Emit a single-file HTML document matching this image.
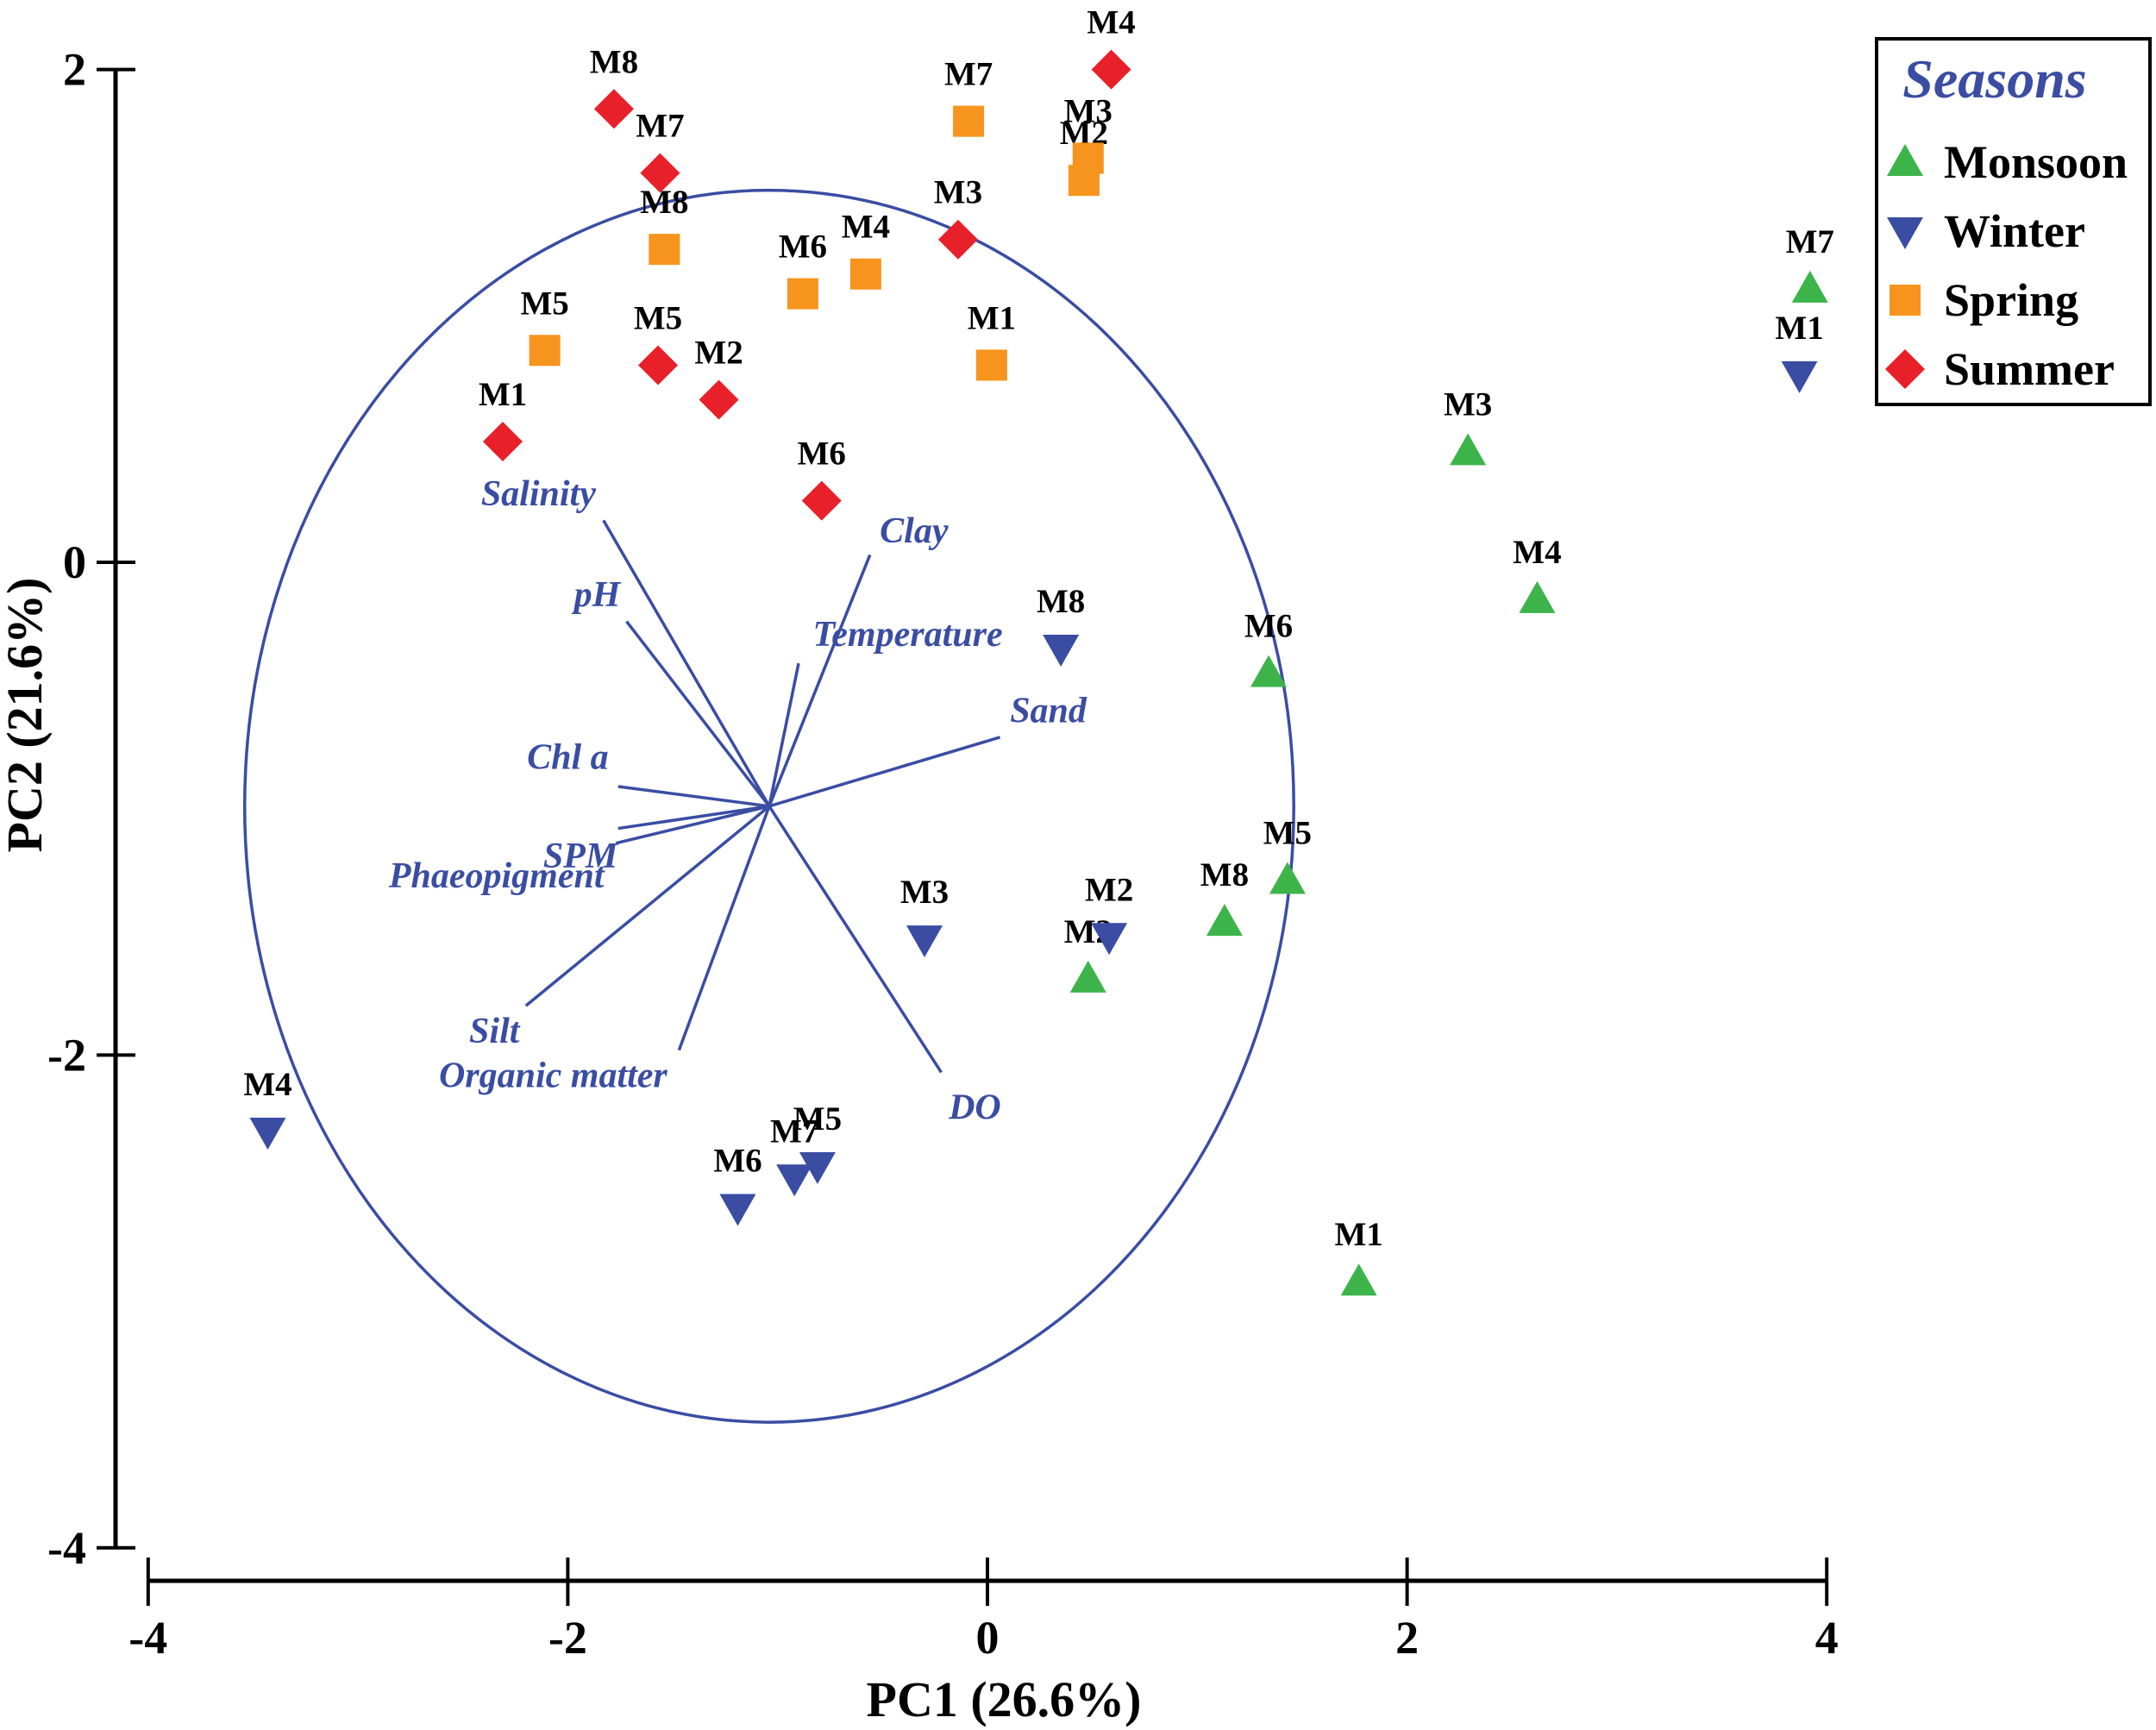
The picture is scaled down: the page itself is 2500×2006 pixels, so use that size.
<!DOCTYPE html>
<html><head><meta charset="utf-8"><style>
html,body{margin:0;padding:0;background:#fff;}
svg{display:block;}
text{font-family:"Liberation Serif",serif;font-weight:bold;}
</style></head><body>
<svg id="chart" xmlns="http://www.w3.org/2000/svg" width="2500" height="2006" viewBox="0 0 2500 2006">
<g id="axes"></g>
<g id="biplot"></g>
<g id="points"></g>
<g id="legend">
<rect x="2176" y="45" width="317" height="424" fill="#fff" stroke="#000" stroke-width="4"/>
<text x="2313" y="113" text-anchor="middle" font-size="64" font-style="italic" fill="#3a4da3">Seasons</text>
</g>
</svg>
<script>
const NS="http://www.w3.org/2000/svg";
// ---- data ----
const seasons=["Monsoon","Winter","Spring","Summer"];
const seasonColors=["#3cb44a","#3a4da3","#f7941d","#e8202a"];
const siteLabels=["M1","M2","M3","M4","M5","M6","M7","M8"];
const monsoonX=[1.77,0.48,2.29,2.62,1.43,1.34,3.92,1.13];
const monsoonY=[-2.92,-1.69,0.45,-0.15,-1.29,-0.45,1.11,-1.46];
const winterX=[3.87,0.58,-0.30,-3.43,-0.81,-1.19,-0.92,0.35];
const winterY=[0.76,-1.52,-1.53,-2.31,-2.45,-2.62,-2.50,-0.35];
const springX=[0.02,0.46,0.48,-0.58,-2.11,-0.88,-0.09,-1.54];
const springY=[0.80,1.55,1.64,1.17,0.86,1.09,1.79,1.27];
const summerX=[-2.31,-1.28,-0.14,0.59,-1.57,-0.79,-1.56,-1.78];
const summerY=[0.49,0.66,1.31,2.00,0.80,0.25,1.58,1.84];
const xTicks=[-4,-2,0,2,4];
const yTicks=[2,0,-2,-4];
const biplotCenter=[-1.04,-0.99];
const circleRadius=2.5;
const varNames=["Salinity","pH","Clay","Temperature","Sand","Chl a","SPM","Phaeopigment","Silt","Organic matter","DO"];
const varEndX=[-1.83,-1.72,-0.56,-0.90,0.06,-1.76,-1.76,-1.77,-2.20,-1.47,-0.22];
const varEndY=[0.17,-0.24,0.03,-0.41,-0.71,-0.91,-1.08,-1.14,-1.80,-1.98,-2.07];
const varLabelX=[-2.14,-1.86,-0.35,-0.38,0.29,-2.00,-1.94,-2.34,-2.35,-2.07,-0.06];
const varLabelY=[0.28,-0.13,0.13,-0.29,-0.60,-0.79,-1.19,-1.27,-1.90,-2.08,-2.21];
// ---- scales ----
function sx(v){return 1145+v*243.3;}
function sy(v){return 652-v*285.7;}
function mk(tag,attrs,parent){const e=document.createElementNS(NS,tag);for(const k in attrs)e.setAttribute(k,attrs[k]);parent.appendChild(e);return e;}
const axes=document.getElementById('axes');
let yl=mk('line',{x1:134,y1:sy(2),x2:134,y2:sy(-4),stroke:'#000','stroke-width':5},axes);


yTicks.forEach(t=>{
 const l=mk('line',{x1:112,y1:sy(t),x2:157,y2:sy(t),stroke:'#000','stroke-width':4},axes);
 
 
 const tx=mk('text',{x:100,y:sy(t)+18,'text-anchor':'end','font-size':54,fill:'#000'},axes);
 tx.textContent=t;
 
 
});
let xl=mk('line',{x1:sx(-4),y1:1833,x2:sx(4),y2:1833,stroke:'#000','stroke-width':5},axes);


xTicks.forEach(t=>{
 const l=mk('line',{x1:sx(t),y1:1806,x2:sx(t),y2:1862,stroke:'#000','stroke-width':4},axes);
 
 
 const tx=mk('text',{x:sx(t),y:1917,'text-anchor':'middle','font-size':54,fill:'#000'},axes);
 tx.textContent=t;
 
 
});
let xt=mk('text',{x:1164,y:1990,'text-anchor':'middle','font-size':58,fill:'#000'},axes);
xt.textContent="PC1 (26.6%)";


let yt=mk('text',{x:0,y:0,'text-anchor':'middle','font-size':58,fill:'#000',transform:'translate(48,829) rotate(-90)'},axes);
yt.textContent="PC2 (21.6%)";


const bp=document.getElementById('biplot');
const cx=sx(biplotCenter[0]),cy=sy(biplotCenter[1]);
let el=mk('ellipse',{cx:cx,cy:cy,rx:circleRadius*243.3,ry:circleRadius*285.7,fill:'none',stroke:'#3a4da3','stroke-width':3.5},bp);


varNames.forEach((n,i)=>{
 const l=mk('line',{x1:cx,y1:cy,x2:sx(varEndX[i]),y2:sy(varEndY[i]),stroke:'#3a4da3','stroke-width':3.5},bp);
 
 
 const t=mk('text',{x:sx(varLabelX[i]),y:sy(varLabelY[i])+14,'text-anchor':'middle','font-size':42,'font-style':'italic',fill:'#3a4da3'},bp);
 t.textContent=n;
 
 
});
const pts=document.getElementById('points');
const seriesX=[monsoonX,winterX,springX,summerX];
const seriesY=[monsoonY,winterY,springY,summerY];
function marker(type,x,y,color,parent){
 if(type===0)return mk('polygon',{points:`${x},${y-21} ${x-21},${y+16} ${x+21},${y+16}`,fill:color},parent);
 if(type===1)return mk('polygon',{points:`${x},${y+21} ${x-21},${y-16} ${x+21},${y-16}`,fill:color},parent);
 if(type===2)return mk('rect',{x:x-18,y:y-18,width:36,height:36,fill:color},parent);
 return mk('polygon',{points:`${x},${y-23} ${x+23},${y} ${x},${y+23} ${x-23},${y}`,fill:color},parent);
}
seriesX.forEach((xs,s)=>{
 xs.forEach((v,i)=>{
  const x=sx(v),y=sy(seriesY[s][i]);
  const m=marker(s,x,y,seasonColors[s],pts);
  
  
  const t=mk('text',{x:x,y:y-42,'text-anchor':'middle','font-size':39,fill:'#000'},pts);
  t.textContent=siteLabels[i];
  
  
 });
});
const lg=document.getElementById('legend');
seasons.forEach((s,i)=>{
 const y=188+i*80;
 const m=marker(i,2209,y,seasonColors[i],lg);
 
 
 const t=mk('text',{x:2254,y:y+18,'font-size':54,fill:'#000'},lg);
 t.textContent=s;
 
 
});
</script>
</body></html>
